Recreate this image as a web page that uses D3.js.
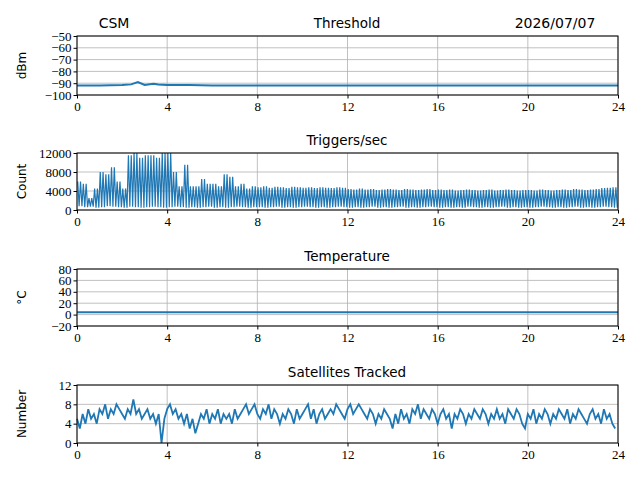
<!DOCTYPE html>
<html><head><meta charset="utf-8">
<script src="https://cdn.jsdelivr.net/npm/d3@7"></script>
<style>body{margin:0;background:#fff}text{fill:#000}</style>
</head><body><svg width="640" height="480"></svg>
<script>
// hourly-bin envelopes (bin = 0.25 h for triggers)
const trigHi = [6000,5500,2500,4500,8000,7500,9000,6000,4500,11500,12000,11000,11500,11500,11000,12000,
  12000,8000,5000,9500,5000,5000,6500,5500,5500,5000,7500,7000,5000,5500,4500,5000,
  4800,5000,4700,4900,4800,4600,4900,4800,4700,4800,4600,4800,4700,4600,4800,4700,
  4400,4300,4500,4300,4400,4200,4300,4400,4300,4200,4400,4300,4200,4300,4400,4200,
  4300,4200,4300,4100,4200,4300,4200,4100,4200,4300,4100,4200,4300,4200,4100,4200,
  4200,4100,4300,4200,4100,4200,4300,4200,4400,4300,4200,4300,4400,4600,4700,4800];
const trigLo = [800,600,700,500,600,800,700,600,500,700,600,500,600,700,600,500,
  600,700,600,500,600,500,600,700,500,600,500,600,700,600,500,600,
  600,500,600,700,500,600,500,600,700,600,500,600,500,600,700,600,
  500,600,500,600,700,500,600,500,600,700,500,600,500,600,700,600,
  500,600,500,600,500,700,600,500,600,500,600,700,500,600,500,600,
  500,600,700,600,500,600,500,600,700,500,600,500,600,700,600,500];
// satellites, one reading per 0.125 h
const satVals = [5,3,6,4,7,5,6,4,7,6,8,5,7,6,8,7,6,5,7,6,9,6,7,5,6,7,5,6,4,6,0,5,
  7,8,6,7,5,6,4,6,3,5,2,4,6,5,7,4,6,5,7,4,6,5,6,4,7,5,6,7,8,6,7,8,
  6,5,7,6,8,5,7,6,4,6,5,7,6,4,7,5,6,7,8,5,7,4,6,7,5,6,7,6,8,7,6,5,
  7,8,6,7,8,7,6,5,7,6,4,6,5,7,6,5,3,6,4,7,5,6,4,7,6,8,5,7,6,5,7,6,
  4,6,7,5,6,3,6,5,7,6,4,6,5,7,6,5,7,6,4,6,5,7,5,6,4,7,6,5,7,6,4,3,
  6,5,7,4,6,5,7,6,4,6,5,7,6,5,7,4,6,5,7,6,5,4,6,7,5,6,4,7,5,6,4,3];
const threshHours = [0,1,2,2.4,2.7,3,3.4,3.6,4,5,6,8,12,16,20,24];
const threshVals = [-92,-92,-91.5,-91,-89,-91.5,-90.5,-91,-91.5,-91.5,-92,-92,-92,-92,-92,-92];
const tempHours = [0,24];
const tempVals = [4,4];
const hourTicks = [0,4,8,12,16,20,24];

const svg = d3.select("svg");
const x = d3.scaleLinear().domain([0,24]).range([77,618]);
const blue = "#1f77b4";
const serif = "'Liberation Serif', serif", sans = "'DejaVu Sans', sans-serif";

function panel(top, bottom, dom, ticks, title, ylab) {
  const y = d3.scaleLinear().domain(dom).range([bottom, top]);
  const g = svg.append("g");
  g.selectAll(".gx").data(hourTicks).join("line").attr("x1", d => x(d)).attr("x2", d => x(d))
    .attr("y1", top).attr("y2", bottom).attr("stroke", "#b0b0b0").attr("stroke-width", 0.8);
  g.selectAll(".gy").data(ticks).join("line").attr("y1", d => y(d)).attr("y2", d => y(d))
    .attr("x1", 77).attr("x2", 618).attr("stroke", "#b0b0b0").attr("stroke-width", 0.8);
  g.append("text").attr("x", 347).attr("y", top - 8).attr("text-anchor", "middle")
    .attr("font-family", sans).attr("font-size", 13.5).text(title);
  g.append("text").attr("transform", `translate(26,${(top+bottom)/2}) rotate(-90)`).attr("text-anchor", "middle")
    .attr("font-family", sans).attr("font-size", 12).text(ylab);
  return {g, y, top, bottom, ticks};
}
function frame(p) {
  const ax = p.g.append("g").attr("transform", `translate(0,${p.bottom})`)
    .call(d3.axisBottom(x).tickValues(hourTicks).tickSize(3.5).tickPadding(3));
  const ay = p.g.append("g").attr("transform", "translate(77,0)")
    .call(d3.axisLeft(p.y).tickValues(p.ticks).tickSize(3.5).tickPadding(2)
      .tickFormat(d => d < 0 ? "\u2212" + (-d) : d));
  [ax, ay].forEach(a => { a.select(".domain").remove(); a.selectAll("text").attr("font-family", serif).attr("font-size", 13); });
  p.g.append("rect").attr("x", 77).attr("y", p.top).attr("width", 541).attr("height", p.bottom - p.top)
    .attr("fill", "none").attr("stroke", "#000").attr("stroke-width", 1);
}
function envelope(hi, lo, step, sub) {
  const pts = [];
  hi.forEach((h, i) => {
    for (let k = 0; k < sub; k++) {
      const t = i * step + (k + 0.5) * step / sub;
      pts.push([t, k % 2 ? lo[i] : h]);
    }
  });
  return pts;
}

const p1 = panel(36, 95, [-100,-50], [-100,-90,-80,-70,-60,-50], "Threshold", "dBm");
p1.g.append("path").datum(threshHours.map((h, i) => [h, threshVals[i]])).attr("fill", "none")
  .attr("stroke", blue).attr("stroke-width", 2).attr("d", d3.line().x(d => x(d[0])).y(d => p1.y(d[1])));
frame(p1);
svg.append("text").attr("x", 114).attr("y", 28).attr("text-anchor", "middle").attr("font-family", sans).attr("font-size", 14).text("CSM");
svg.append("text").attr("x", 555).attr("y", 28).attr("text-anchor", "middle").attr("font-family", sans).attr("font-size", 14).text("2026/07/07");

const p2 = panel(153, 210, [0,12000], [0,4000,8000,12000], "Triggers/sec", "Count");
p2.g.append("clipPath").attr("id", "c2").append("rect").attr("x", 77).attr("y", 153).attr("width", 541).attr("height", 57);
p2.g.append("path").datum(envelope(trigHi, trigLo, 0.25, 4)).attr("clip-path", "url(#c2)").attr("fill", "none")
  .attr("stroke", blue).attr("stroke-width", 1.2).attr("d", d3.line().x(d => x(d[0])).y(d => p2.y(d[1])));
frame(p2);

const p3 = panel(269, 326, [-20,80], [-20,0,20,40,60,80], "Temperature", "\u00b0C");
p3.g.append("path").datum(tempHours.map((h, i) => [h, tempVals[i]])).attr("fill", "none")
  .attr("stroke", blue).attr("stroke-width", 2).attr("d", d3.line().x(d => x(d[0])).y(d => p3.y(d[1])));
frame(p3);

const p4 = panel(385, 443, [0,12], [0,4,8,12], "Satellites Tracked", "Number");
p4.g.append("path").datum(satVals.map((v, i) => [i * 0.125, v])).attr("fill", "none")
  .attr("stroke", blue).attr("stroke-width", 1.8).attr("d", d3.line().x(d => x(d[0])).y(d => p4.y(d[1])));
frame(p4);
</script></body></html>
